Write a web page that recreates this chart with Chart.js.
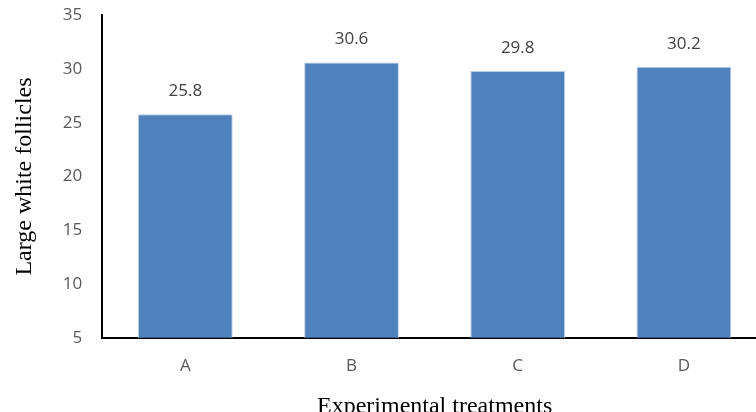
<!DOCTYPE html>
<html>
<head>
<meta charset="utf-8">
<script src="https://cdn.jsdelivr.net/npm/chart.js@4"></script>
<style>
  html, body { margin: 0; padding: 0; overflow: hidden; background: #fff; }
  #wrap { width: 770px; height: 436px; position: relative; margin-top: -15px; }
</style>
</head>
<body>
<div id="wrap"><canvas id="follicleChart"></canvas></div>
<script>
var treatments = ['A', 'B', 'C', 'D'];
var follicles = [25.8, 30.6, 29.8, 30.2];
var yTicks = [5, 10, 15, 20, 25, 30, 35];

// draws the number above each bar
var valueLabels = {
  id: 'valueLabels',
  afterDatasetsDraw: function(chart) {
    var ctx = chart.ctx;
    var meta = chart.getDatasetMeta(0);
    ctx.save();
    ctx.font = '17px "Open Sans", "Liberation Sans", sans-serif';
    ctx.fillStyle = '#404040';
    ctx.textAlign = 'center';
    ctx.textBaseline = 'middle';
    meta.data.forEach(function(bar, i) {
      ctx.fillText(follicles[i].toFixed(1), bar.x, bar.y - 23);
    });
    ctx.restore();
  }
};

new Chart('follicleChart', {
  type: 'bar',
  data: {
    labels: treatments,
    datasets: [{
      data: follicles,
      backgroundColor: '#4f81bd',
      borderColor: '#b9cce4',
      borderWidth: 1,
      categoryPercentage: 1,
      barPercentage: 0.57
    }]
  },
  options: {
    responsive: true,
    maintainAspectRatio: false,
    animation: false,
    layout: { padding: { top: 0, right: 3, left: 10, bottom: 0 } },
    plugins: { legend: { display: false }, tooltip: { enabled: false } },
    scales: {
      x: {
        grid: { display: false, drawTicks: false },
        border: { display: true, color: '#000', width: 2 },
        ticks: { color: '#595959', font: { size: 17, family: '"Open Sans", "Liberation Sans", sans-serif' }, padding: 18 },
        title: {
          display: true,
          text: 'Experimental treatments',
          color: '#000',
          font: { size: 24, family: '"Liberation Serif", serif' },
          padding: { top: -2, bottom: 0 }
        }
      },
      y: {
        min: 5,
        max: 35,
        afterBuildTicks: function(axis) {
          axis.ticks = yTicks.map(function(v) { return { value: v }; });
        },
        grid: { display: false, drawTicks: false },
        border: { display: true, color: '#000', width: 2 },
        ticks: { color: '#595959', font: { size: 17, family: '"Open Sans", "Liberation Sans", sans-serif' }, padding: 20 },
        title: {
          display: true,
          text: 'Large white follicles',
          color: '#000',
          font: { size: 24, family: '"Liberation Serif", serif' },
          padding: { top: 0, bottom: 4 }
        }
      }
    }
  },
  plugins: [valueLabels]
});
</script>
</body>
</html>
